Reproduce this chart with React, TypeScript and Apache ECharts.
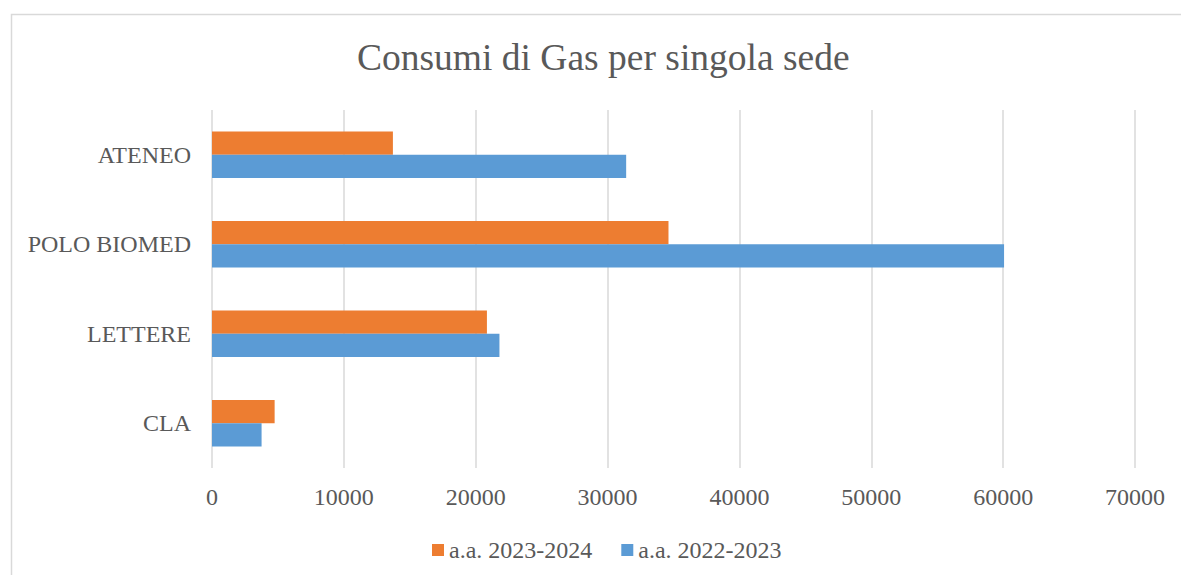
import React, { useEffect, useRef } from "react";
import * as echarts from "echarts";

const categories = ["CLA", "LETTERE", "POLO BIOMED", "ATENEO"];
const series2022 = [3760, 21800, 60070, 31410];
const series2023 = [4750, 20850, 34620, 13720];
const seriesNames = ["a.a. 2023-2024", "a.a. 2022-2023"];
const legendOrder = ["a.a. 2023-2024", "a.a. 2022-2023"];
const titleText = "Consumi di Gas per singola sede";

const FONT = "'Liberation Serif', 'Times New Roman', serif";
const TEXT = "#595959";

export default function App() {
  const ref = useRef<HTMLDivElement>(null);
  useEffect(() => {
    if (!ref.current) return;
    const chart = echarts.init(ref.current, undefined, { renderer: "svg" });
    chart.setOption({
      animation: false,
      backgroundColor: "#ffffff",
      title: {
        text: titleText,
        left: 352,
        top: 33,
        textStyle: { fontFamily: FONT, fontSize: 37.5, fontWeight: "normal", color: TEXT },
      },
      graphic: [
        {
          type: "rect",
          shape: { x: 11.5, y: 14.5, width: 1300, height: 700 },
          style: { fill: "none", stroke: "#d9d9d9", lineWidth: 1.5 },
          silent: true,
          z: -10,
        },
      ],
      legend: {
        data: legendOrder,
        left: 427,
        top: 533,
        icon: "rect",
        itemWidth: 12,
        itemHeight: 12,
        itemGap: 29,
        textStyle: { fontFamily: FONT, fontSize: 24, color: TEXT },
      },
      grid: { left: 212, right: 46, top: 110, bottom: 107, containLabel: false },
      xAxis: {
        type: "value",
        min: 0,
        max: 70000,
        interval: 10000,
        axisLine: { show: false },
        axisTick: { show: false },
        splitLine: { show: true, lineStyle: { color: "#d9d9d9", width: 1.5 } },
        axisLabel: {
          fontFamily: FONT,
          fontSize: 24,
          color: TEXT,
          margin: 17,
          formatter: (v: number) => String(v),
        },
      },
      yAxis: {
        type: "category",
        data: categories,
        axisLine: { show: false },
        axisTick: { show: false },
        splitLine: { show: false },
        axisLabel: { fontFamily: FONT, fontSize: 24, color: TEXT, margin: 21 },
      },
      series: [
        {
          name: seriesNames[0],
          type: "bar",
          data: series2023,
          itemStyle: { color: "#ed7d31" },
          barGap: "0%",
          barCategoryGap: "48%",
        },
        {
          name: seriesNames[1],
          type: "bar",
          data: series2022,
          itemStyle: { color: "#5b9bd5" },
          barGap: "0%",
          barCategoryGap: "48%",
        },
      ],
    });
    return () => chart.dispose();
  }, []);
  return (
    <div
      ref={ref}
      style={{ position: "fixed", left: 0, top: 0, width: 1181, height: 575 }}
    />
  );
}
